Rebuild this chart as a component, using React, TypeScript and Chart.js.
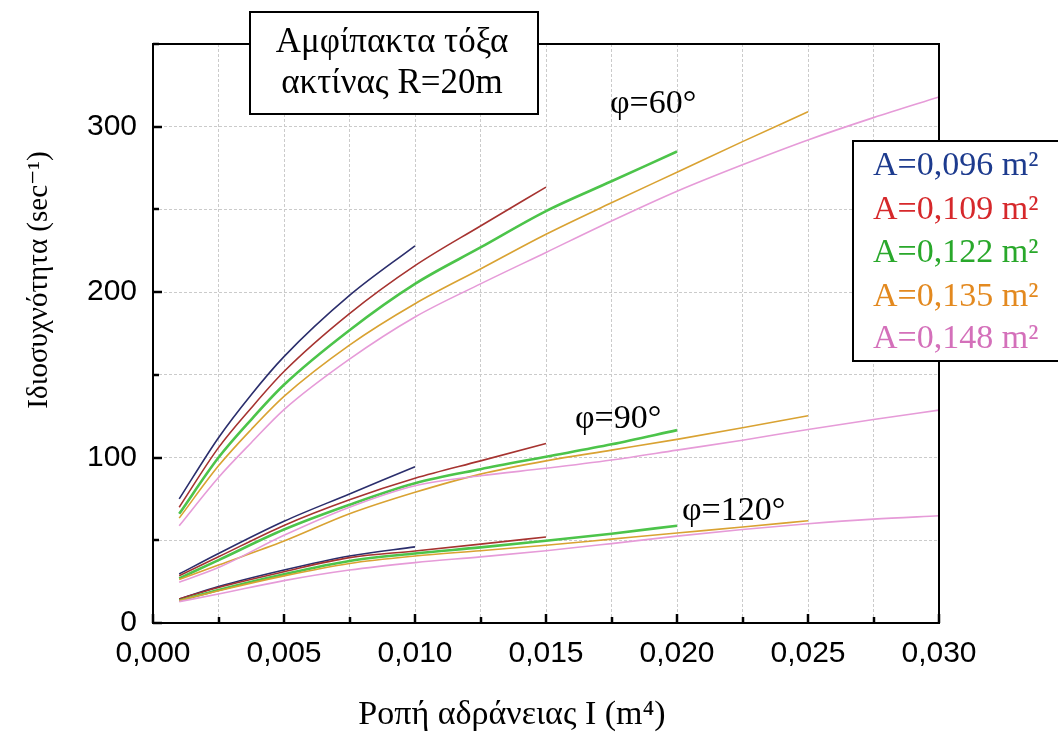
import React, { useEffect, useRef } from 'react';
import { Chart, registerables } from 'chart.js';

Chart.register(...registerables);

// ---------- DATA ----------
const AREA_LABELS = ['A=0,096 m²', 'A=0,109 m²', 'A=0,122 m²', 'A=0,135 m²', 'A=0,148 m²'];
const LINE_COLORS = ['#2b2e6c', '#a63330', '#4cc44a', '#d9a232', '#e69bd8'];
const LEGEND_COLORS = ['#1d3b8e', '#d6282b', '#29a82b', '#e3891f', '#d470ba'];
const LINE_WIDTHS = [1.6, 1.6, 2.6, 1.6, 1.6];

const ANGLE_LABELS = ['φ=60°', 'φ=90°', 'φ=120°'];

// moment of inertia grid (m^4)
const I_60 = [0.001, 0.0025, 0.00375, 0.005, 0.0075, 0.010, 0.0125, 0.015, 0.0175, 0.020, 0.0225, 0.025, 0.0275, 0.030];
const I_LOW = [0.001, 0.0025, 0.005, 0.0075, 0.010, 0.0125, 0.015, 0.0175, 0.020, 0.0225, 0.025, 0.0275, 0.030];

// φ = 60°
const F60_A096 = [75, 112, 138, 161, 198, 228];
const F60_A109 = [70, 106, 130, 152, 187, 216, 240, 263.5];
const F60_A122 = [66, 100, 123, 144, 177, 205, 227, 249, 267, 285];
const F60_A135 = [63.4, 95, 117, 137, 168, 193, 214, 235, 254, 272.5, 291, 309];
const F60_A148 = [58.8, 88, 109, 129, 159.5, 185, 205, 224, 243, 261, 277, 292, 305.5, 318];

// φ = 90°
const F90_A096 = [29.6, 42, 61.5, 78, 94.5];
const F90_A109 = [28.6, 40, 59, 74.5, 87.5, 98, 108.5];
const F90_A122 = [27, 38, 56.5, 71.5, 84.5, 93, 100.5, 108, 116.6];
const F90_A135 = [26.3, 35, 49.5, 66, 79, 90, 98, 104.5, 111, 118, 125.3];
const F90_A148 = [24.7, 33.5, 53, 70, 83, 89, 93.5, 98.5, 104.5, 110.5, 117, 123, 128.7];

// φ = 120°
const F120_A096 = [14.5, 22, 32, 40.5, 46];
const F120_A109 = [14.5, 21.5, 31, 39.5, 43.5, 47.7, 52];
const F120_A122 = [13.5, 20, 29.5, 37.5, 42, 45.7, 49.7, 54, 58.8];
const F120_A135 = [13.5, 19.5, 28.5, 36, 40.5, 43.7, 47, 50.7, 54.4, 58, 61.8];
const F120_A148 = [12.9, 17.5, 25.6, 32, 36.5, 40, 43.7, 48, 52.5, 56.5, 60, 62.8, 64.8];

const X_MIN = 0;
const X_MAX = 0.03;
const X_STEP = 0.0025;
const Y_MIN = 0;
const Y_MAX = 350;
const Y_STEP = 50;

const TITLE_LINES = ['Αμφίπακτα τόξα', 'ακτίνας R=20m'];
const X_TITLE = 'Ροπή αδράνειας I (m⁴)';
const Y_TITLE = 'Ιδιοσυχνότητα (sec⁻¹)';

const SERIF = '"Liberation Serif", "DejaVu Serif", serif';
const SANS = '"Liberation Sans", Arial, sans-serif';

function series(xs: number[], ys: number[], idx: number) {
  return {
    label: AREA_LABELS[idx],
    data: ys.map((v, i) => ({ x: xs[i], y: v })),
    borderColor: LINE_COLORS[idx],
    backgroundColor: LINE_COLORS[idx],
    borderWidth: LINE_WIDTHS[idx],
    pointRadius: 0,
    fill: false,
    cubicInterpolationMode: 'monotone' as const,
  };
}

const decorPlugin = {
  id: 'decor',
  afterDraw(chart: any) {
    const { ctx, chartArea: a, scales } = chart;
    const xs = scales.x;
    const ys = scales.y;
    ctx.save();

    // frame
    ctx.strokeStyle = '#000';
    ctx.lineWidth = 2;
    ctx.setLineDash([]);
    ctx.strokeRect(a.left, a.top, a.right - a.left, a.bottom - a.top);

    // inward ticks
    ctx.lineWidth = 2.5;
    xs.ticks.forEach((t: any) => {
      const px = Math.round(xs.getPixelForValue(t.value));
      const major = Math.round(t.value / X_STEP) % 2 === 0;
      const len = major ? 9 : 6;
      ctx.beginPath();
      ctx.moveTo(px, a.bottom);
      ctx.lineTo(px, a.bottom - len);
      ctx.stroke();
    });
    ys.ticks.forEach((t: any) => {
      const py = Math.round(ys.getPixelForValue(t.value));
      const major = Math.round(t.value / Y_STEP) % 2 === 0;
      const len = major ? 9 : 6;
      ctx.beginPath();
      ctx.moveTo(a.left, py);
      ctx.lineTo(a.left + len, py);
      ctx.stroke();
    });
    ctx.lineWidth = 2;

    // title box
    ctx.fillStyle = '#fff';
    ctx.fillRect(250, 12, 288, 102);
    ctx.strokeRect(250, 12, 288, 102);
    ctx.fillStyle = '#000';
    ctx.font = `35px ${SERIF}`;
    ctx.textAlign = 'center';
    ctx.textBaseline = 'middle';
    ctx.fillText(TITLE_LINES[0], 392, 43);
    ctx.fillText(TITLE_LINES[1], 392, 84);

    // legend box
    ctx.fillStyle = '#fff';
    ctx.fillRect(853, 141, 230, 220);
    ctx.strokeRect(853, 141, 230, 220);
    ctx.font = `34px ${SERIF}`;
    ctx.textAlign = 'left';
    const legendY = [166, 210, 253, 297, 339];
    AREA_LABELS.forEach((lab, i) => {
      ctx.fillStyle = LEGEND_COLORS[i];
      ctx.fillText(lab, 873, legendY[i]);
    });

    // angle annotations
    ctx.fillStyle = '#000';
    ctx.font = `34px ${SERIF}`;
    ctx.textAlign = 'left';
    ctx.fillText(ANGLE_LABELS[0], 610, 104);
    ctx.fillText(ANGLE_LABELS[1], 575, 419);
    ctx.fillText(ANGLE_LABELS[2], 682, 511);

    // axis titles
    ctx.font = `34px ${SERIF}`;
    ctx.textAlign = 'center';
    ctx.fillText(X_TITLE, 512, 715);
    ctx.font = `29px ${SERIF}`;
    ctx.translate(39, 280);
    ctx.rotate(-Math.PI / 2);
    ctx.fillText(Y_TITLE, 0, 0);

    ctx.restore();
  },
};

export default function App() {
  const canvasRef = useRef<HTMLCanvasElement | null>(null);

  useEffect(() => {
    const canvas = canvasRef.current;
    if (!canvas) return;
    const datasets = [
      series(I_60, F60_A148, 4),
      series(I_60, F60_A135, 3),
      series(I_60, F60_A122, 2),
      series(I_60, F60_A109, 1),
      series(I_60, F60_A096, 0),
      series(I_LOW, F90_A148, 4),
      series(I_LOW, F90_A135, 3),
      series(I_LOW, F90_A122, 2),
      series(I_LOW, F90_A109, 1),
      series(I_LOW, F90_A096, 0),
      series(I_LOW, F120_A148, 4),
      series(I_LOW, F120_A135, 3),
      series(I_LOW, F120_A122, 2),
      series(I_LOW, F120_A109, 1),
      series(I_LOW, F120_A096, 0),
    ];
    const chart = new Chart(canvas, {
      type: 'line',
      data: { datasets },
      options: {
        animation: false,
        responsive: false,
        maintainAspectRatio: false,
        devicePixelRatio: 1,
        layout: { padding: { left: 0, top: 44, right: 119, bottom: 0 } },
        plugins: {
          legend: { display: false },
          tooltip: { enabled: false },
          title: { display: false },
        },
        scales: {
          x: {
            type: 'linear',
            min: X_MIN,
            max: X_MAX,
            afterFit: (s: any) => {
              s.height = 114;
            },
            ticks: {
              stepSize: X_STEP,
              autoSkip: false,
              maxRotation: 0,
              padding: 13,
              color: '#000',
              font: { family: SANS, size: 30 },
              callback: (v: any) => {
                const n = Number(v);
                if (Math.round(n / X_STEP) % 2 !== 0) return '';
                return n.toFixed(3).replace('.', ',');
              },
            },
            grid: { color: '#cbcbcb', lineWidth: 1, drawTicks: false },
            border: { display: true, color: '#000', width: 2, dash: [3, 2] },
          },
          y: {
            type: 'linear',
            min: Y_MIN,
            max: Y_MAX,
            afterFit: (s: any) => {
              s.width = 153;
            },
            ticks: {
              stepSize: Y_STEP,
              autoSkip: false,
              padding: 16,
              color: '#000',
              font: { family: SANS, size: 30 },
              callback: (v: any) => {
                const n = Number(v);
                if (Math.round(n / Y_STEP) % 2 !== 0) return '';
                return String(n);
              },
            },
            grid: { color: '#cbcbcb', lineWidth: 1, drawTicks: false },
            border: { display: true, color: '#000', width: 2, dash: [3, 2] },
          },
        },
      },
      plugins: [decorPlugin],
    });
    return () => chart.destroy();
  }, []);

  return (
    <div style={{ position: 'absolute', left: 0, top: 0, width: 1058, height: 737, background: '#fff' }}>
      <canvas ref={canvasRef} width={1058} height={737} style={{ display: 'block' }} />
    </div>
  );
}
